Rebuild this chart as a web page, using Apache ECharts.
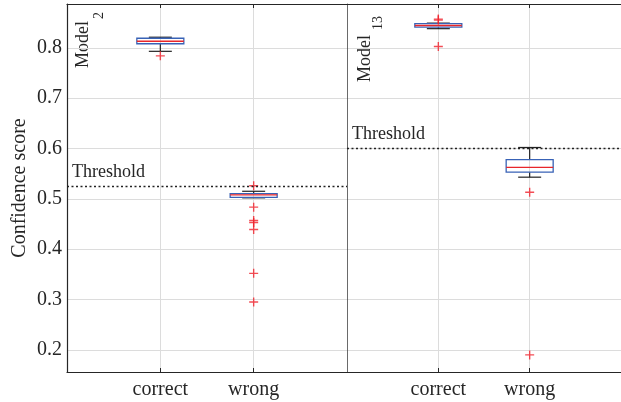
<!DOCTYPE html>
<html lang="en">
<head>
    <meta charset="UTF-8">
    <title>Confidence score</title>
    <script src="https://cdn.jsdelivr.net/npm/echarts@6/dist/echarts.min.js"></script>
</head>
<body style="margin:0">
<div id='box' style="width: 621px;height:402px;"></div>
<script>
    // data
    var groups = ['correct', 'wrong'];
    var yMin = 0.156, yMax = 0.887;
    // [lower whisker, Q1, median, Q3, upper whisker]
    var model2Boxes = [
        [0.793, 0.808, 0.813, 0.819, 0.821],
        [0.502, 0.503, 0.508, 0.5105, 0.515]
    ];
    var model2Outliers = [
        [0.784],
        [0.526, 0.4835, 0.457, 0.453, 0.439, 0.352, 0.295]
    ];
    var model13Boxes = [
        [0.838, 0.841, 0.8443, 0.848, 0.849],
        [0.543, 0.553, 0.5624, 0.578, 0.602]
    ];
    var model13Outliers = [
        [0.857, 0.855, 0.8026],
        [0.513, 0.19]
    ];
    var model2Threshold = 0.524;
    var model13Threshold = 0.601;

    var font = 'Liberation Serif';
    var txt = '#262626';
    var gridColor = '#dcdcdc';
    var boxBlue = '#3862b6';
    var medRed = '#e8262a';
    var cats = [''].concat(groups, ['']);

    function boxData(boxes) {
        return boxes.map(function (b, i) { return [i + 1].concat(b); });
    }
    function outlierData(outs) {
        var res = [];
        outs.forEach(function (list, i) {
            list.forEach(function (v) { res.push([i + 1, v]); });
        });
        return res;
    }

    function renderBox(params, api) {
        var x = api.value(0);
        var lo = api.coord([x, api.value(1)]);
        var q1 = api.coord([x, api.value(2)]);
        var med = api.coord([x, api.value(3)]);
        var q3 = api.coord([x, api.value(4)]);
        var hi = api.coord([x, api.value(5)]);
        var cx = lo[0], bw = 47, cw = 23;
        var wStyle = {stroke: '#222', lineWidth: 1.2};
        return {
            type: 'group',
            children: [
                {type: 'line', shape: {x1: cx, y1: hi[1], x2: cx, y2: q3[1]}, style: wStyle},
                {type: 'line', shape: {x1: cx, y1: q1[1], x2: cx, y2: lo[1]}, style: wStyle},
                {type: 'line', shape: {x1: cx - cw / 2, y1: hi[1], x2: cx + cw / 2, y2: hi[1]}, style: wStyle},
                {type: 'line', shape: {x1: cx - cw / 2, y1: lo[1], x2: cx + cw / 2, y2: lo[1]}, style: wStyle},
                {type: 'rect', shape: {x: cx - bw / 2, y: q3[1], width: bw, height: q1[1] - q3[1]},
                    style: {fill: 'none', stroke: boxBlue, lineWidth: 1.3}},
                {type: 'line', shape: {x1: cx - bw / 2, y1: med[1], x2: cx + bw / 2, y2: med[1]},
                    style: {stroke: medRed, lineWidth: 1.3}}
            ]
        };
    }

    function thresholdLine(v) {
        return {
            silent: true,
            symbol: 'none',
            precision: 3,
            lineStyle: {color: '#222', type: [2, 2.5], width: 1.3},
            label: {
                position: 'insideStartTop', formatter: 'Threshold',
                fontFamily: font, fontSize: 18, color: txt, distance: 5
            },
            data: [{yAxis: v}]
        };
    }

    var showMid = function (i) { return i === 1 || i === 2; };

    function bottomX(g) {
        return {
            type: 'category', gridIndex: g, data: cats, boundaryGap: false,
            axisLine: {lineStyle: {color: txt, width: 1.2}},
            axisTick: {inside: true, length: 4, interval: showMid, lineStyle: {color: txt}},
            axisLabel: {interval: showMid, fontFamily: font, fontSize: 20, color: txt, margin: 8},
            splitLine: {show: true, interval: showMid, lineStyle: {color: gridColor}}
        };
    }
    function topX(g) {
        return {
            type: 'category', gridIndex: g, data: cats, boundaryGap: false, position: 'top',
            axisLine: {lineStyle: {color: txt, width: 1.2}},
            axisTick: {inside: true, length: 4, interval: showMid, lineStyle: {color: txt}},
            axisLabel: {show: false},
            splitLine: {show: false}
        };
    }

    var myChart = echarts.init(document.getElementById('box'));
    var option = {
        animation: false,
        backgroundColor: '#fff',
        grid: [
            {left: 67, top: 4, width: 280, height: 368},
            {left: 347, top: 4, width: 280, height: 368}
        ],
        xAxis: [bottomX(0), bottomX(1), topX(0), topX(1)],
        yAxis: [
            {
                type: 'value', gridIndex: 0, min: yMin, max: yMax,
                splitNumber: 7, minInterval: 0.1, maxInterval: 0.1,
                name: 'Confidence score', nameLocation: 'middle', nameGap: 37, nameRotate: 90,
                nameTextStyle: {fontFamily: font, fontSize: 20, color: txt},
                axisLine: {show: true, lineStyle: {color: txt, width: 1.2}},
                axisTick: {inside: true, length: 5, lineStyle: {color: txt}},
                axisLabel: {
                    fontFamily: font, fontSize: 20, color: txt, margin: 5,
                    showMinLabel: false, showMaxLabel: false,
                    formatter: function (v) { return v.toFixed(1); }
                },
                splitLine: {show: true, lineStyle: {color: gridColor}}
            },
            {
                type: 'value', gridIndex: 1, min: yMin, max: yMax,
                splitNumber: 7, minInterval: 0.1, maxInterval: 0.1,
                axisLine: {show: true, lineStyle: {color: '#444', width: 0.8}},
                axisTick: {show: false},
                axisLabel: {show: false},
                splitLine: {show: true, lineStyle: {color: gridColor}}
            }
        ],
        graphic: [
            {type: 'text', x: 83, y: 68, rotation: Math.PI / 2,
                style: {text: 'Model', align: 'left', verticalAlign: 'middle', font: '18px "Liberation Serif"', fill: txt}},
            {type: 'text', x: 99, y: 19, rotation: Math.PI / 2,
                style: {text: '2', align: 'left', verticalAlign: 'middle', font: '14px "Liberation Serif"', fill: txt}},
            {type: 'text', x: 365, y: 82, rotation: Math.PI / 2,
                style: {text: 'Model', align: 'left', verticalAlign: 'middle', font: '18px "Liberation Serif"', fill: txt}},
            {type: 'text', x: 378, y: 30, rotation: Math.PI / 2,
                style: {text: '13', align: 'left', verticalAlign: 'middle', font: '14px "Liberation Serif"', fill: txt}}
        ],
        series: [
            {
                type: 'custom', xAxisIndex: 0, yAxisIndex: 0, renderItem: renderBox,
                encode: {x: 0, y: [1, 2, 3, 4, 5]}, data: boxData(model2Boxes),
                markLine: thresholdLine(model2Threshold), z: 3
            },
            {
                type: 'custom', xAxisIndex: 1, yAxisIndex: 1, renderItem: renderBox,
                encode: {x: 0, y: [1, 2, 3, 4, 5]}, data: boxData(model13Boxes),
                markLine: thresholdLine(model13Threshold), z: 3
            },
            {
                type: 'scatter', xAxisIndex: 0, yAxisIndex: 0, data: outlierData(model2Outliers),
                symbol: 'path://M0,5L10,5M5,0L5,10', symbolSize: 9, z: 4,
                itemStyle: {color: 'rgba(0,0,0,0)', borderColor: '#f0202a', borderWidth: 1.4}
            },
            {
                type: 'scatter', xAxisIndex: 1, yAxisIndex: 1, data: outlierData(model13Outliers),
                symbol: 'path://M0,5L10,5M5,0L5,10', symbolSize: 9, z: 4,
                itemStyle: {color: 'rgba(0,0,0,0)', borderColor: '#f0202a', borderWidth: 1.4}
            }
        ]
    };
    myChart.setOption(option);
</script>
</body>
</html>
